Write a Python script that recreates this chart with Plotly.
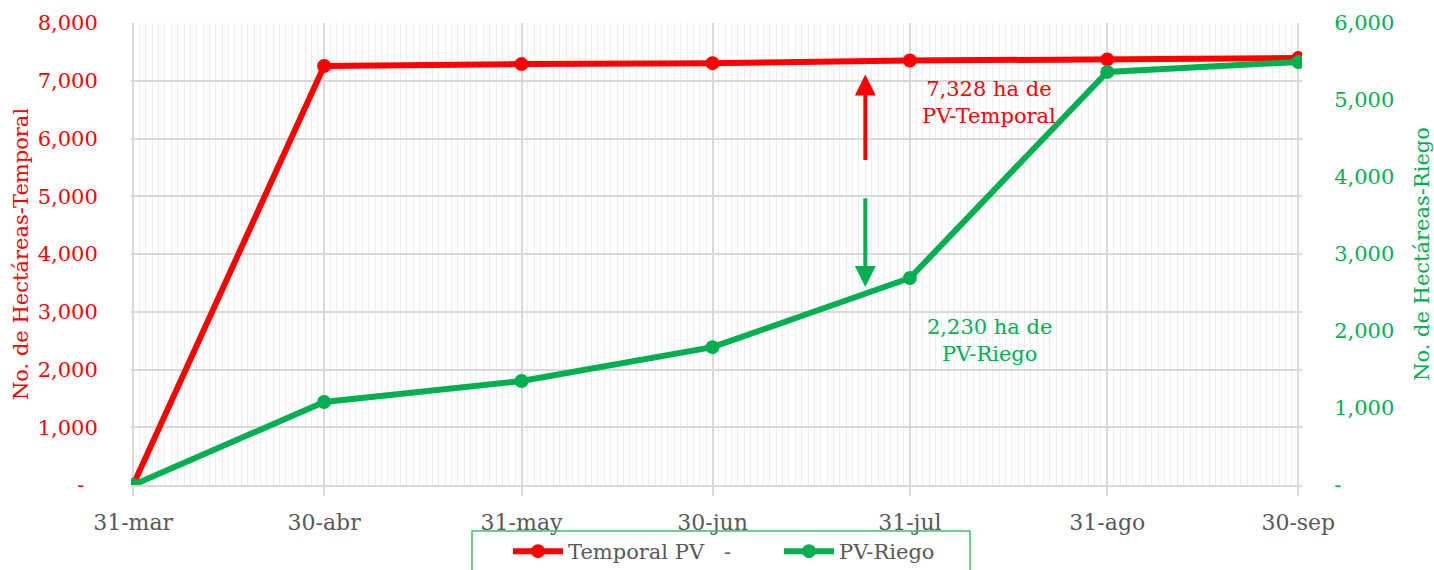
import plotly.graph_objects as go

dates = ["2023-03-31", "2023-04-30", "2023-05-31", "2023-06-30", "2023-07-31", "2023-08-31", "2023-09-30"]
date_labels = ["31-mar", "30-abr", "31-may", "30-jun", "31-jul", "31-ago", "30-sep"]
temporal = [0, 7255, 7288, 7305, 7350, 7370, 7392]
riego = [0, 1078, 1351, 1790, 2688, 5364, 5494]

left_ticks = [0, 1000, 2000, 3000, 4000, 5000, 6000, 7000, 8000]
left_text = ["-\u00a0\u00a0", "1,000", "2,000", "3,000", "4,000", "5,000", "6,000", "7,000", "8,000"]
right_ticks = [0, 1000, 2000, 3000, 4000, 5000, 6000]
right_text = ["-", "1,000", "2,000", "3,000", "4,000", "5,000", "6,000"]

RED = "#ff0000"
GREEN = "#00b050"
GREY = "#595959"
FONT = "DejaVu Serif"

# plot area in pixels (for paper-coordinate helpers)
L, R, T, B = 131, 1302, 23, 485
def px(x):
    return (x - L) / (R - L)
def py(y):
    return (B - y) / (B - T)

fig = go.Figure()
fig.add_trace(go.Scatter(x=dates, y=temporal, name="Temporal PV\u00a0\u00a0\u00a0-", mode="lines+markers",
                         line=dict(color=RED, width=6), marker=dict(size=14, color=RED)))
fig.add_trace(go.Scatter(x=dates, y=riego, name="PV-Riego", mode="lines+markers", yaxis="y2",
                         line=dict(color=GREEN, width=6), marker=dict(size=14, color=GREEN)))

fig.update_layout(
    width=1434, height=570,
    margin=dict(l=L, r=1434 - R, t=T, b=570 - B, autoexpand=False),
    paper_bgcolor="white", plot_bgcolor="white",
    font=dict(family=FONT, size=21, color=GREY),
    showlegend=True,
    legend=dict(orientation="h", x=px(508), xanchor="left", y=py(531), yanchor="top",
                borderwidth=0, bgcolor="rgba(0,0,0,0)", font=dict(size=21, color=GREY),
                itemwidth=50, entrywidth=206),
    xaxis=dict(
        type="date", range=["2023-03-30 16:00", "2023-09-30 14:00"],
        tickmode="array", tickvals=dates, ticktext=date_labels,
        showgrid=True, gridcolor="#d9d9d9", gridwidth=1.5,
        ticks="outside", ticklen=9, tickcolor="#d9d9d9", tickwidth=1.5,
        ticklabelstandoff=8,
        showline=True, linecolor="#d9d9d9", linewidth=2,
        tickfont=dict(size=22, color=GREY),
        zeroline=False, automargin=False,
        minor=dict(tickmode="linear", dtick=86400000, tick0="2023-03-31",
                   showgrid=True, gridcolor="#eeeeee", gridwidth=1, ticks=""),
    ),
    yaxis=dict(
        range=[0, 8000], tickmode="array", tickvals=left_ticks, ticktext=left_text,
        showgrid=True, gridcolor="#d9d9d9", gridwidth=2, zeroline=False, automargin=False,
        tickfont=dict(size=21, color=RED),
        ticks="outside", ticklen=28, tickcolor="rgba(0,0,0,0)",
        title=dict(text="No. de Hectáreas-Temporal", font=dict(size=21, color=RED), standoff=3),
    ),
    yaxis2=dict(
        range=[0, 6000], overlaying="y", side="right", tickmode="array",
        tickvals=right_ticks, ticktext=right_text, showgrid=False, zeroline=False, automargin=False,
        tickfont=dict(size=21, color=GREEN),
        ticks="outside", ticklen=27, tickcolor="rgba(0,0,0,0)",
        title=dict(text="No. de Hectáreas-Riego", font=dict(size=21, color=GREEN), standoff=22),
    ),
)

# legend frame
fig.add_shape(type="rect", xref="paper", yref="paper", x0=px(472), x1=px(970), y0=py(531), y1=py(580),
              line=dict(color="#3cbf6f", width=1.5), fillcolor="rgba(0,0,0,0)", layer="above")

arrow_x = "2023-07-24"
fig.add_annotation(x=arrow_x, y=7110, ax=arrow_x, ay=5600, xref="x", yref="y", axref="x", ayref="y",
                   text="", showarrow=True, arrowhead=2, arrowsize=1.05, arrowwidth=4, arrowcolor=RED)
fig.add_annotation(x=arrow_x, y=3430, ax=arrow_x, ay=4990, xref="x", yref="y", axref="x", ayref="y",
                   text="", showarrow=True, arrowhead=2, arrowsize=1.05, arrowwidth=4, arrowcolor=GREEN)
fig.add_annotation(x="2023-08-12 12:00", y=6615, xref="x", yref="y", text="7,328 ha de<br>PV-Temporal",
                   showarrow=False, font=dict(size=21, color=RED))
fig.add_annotation(x="2023-08-12 12:00", y=2510, xref="x", yref="y", text="2,230 ha de<br>PV-Riego",
                   showarrow=False, font=dict(size=21, color=GREEN))

fig.write_html("out.html", config={"displayModeBar": False},
               post_script="document.body.style.margin='0';document.body.style.overflow='hidden';")
